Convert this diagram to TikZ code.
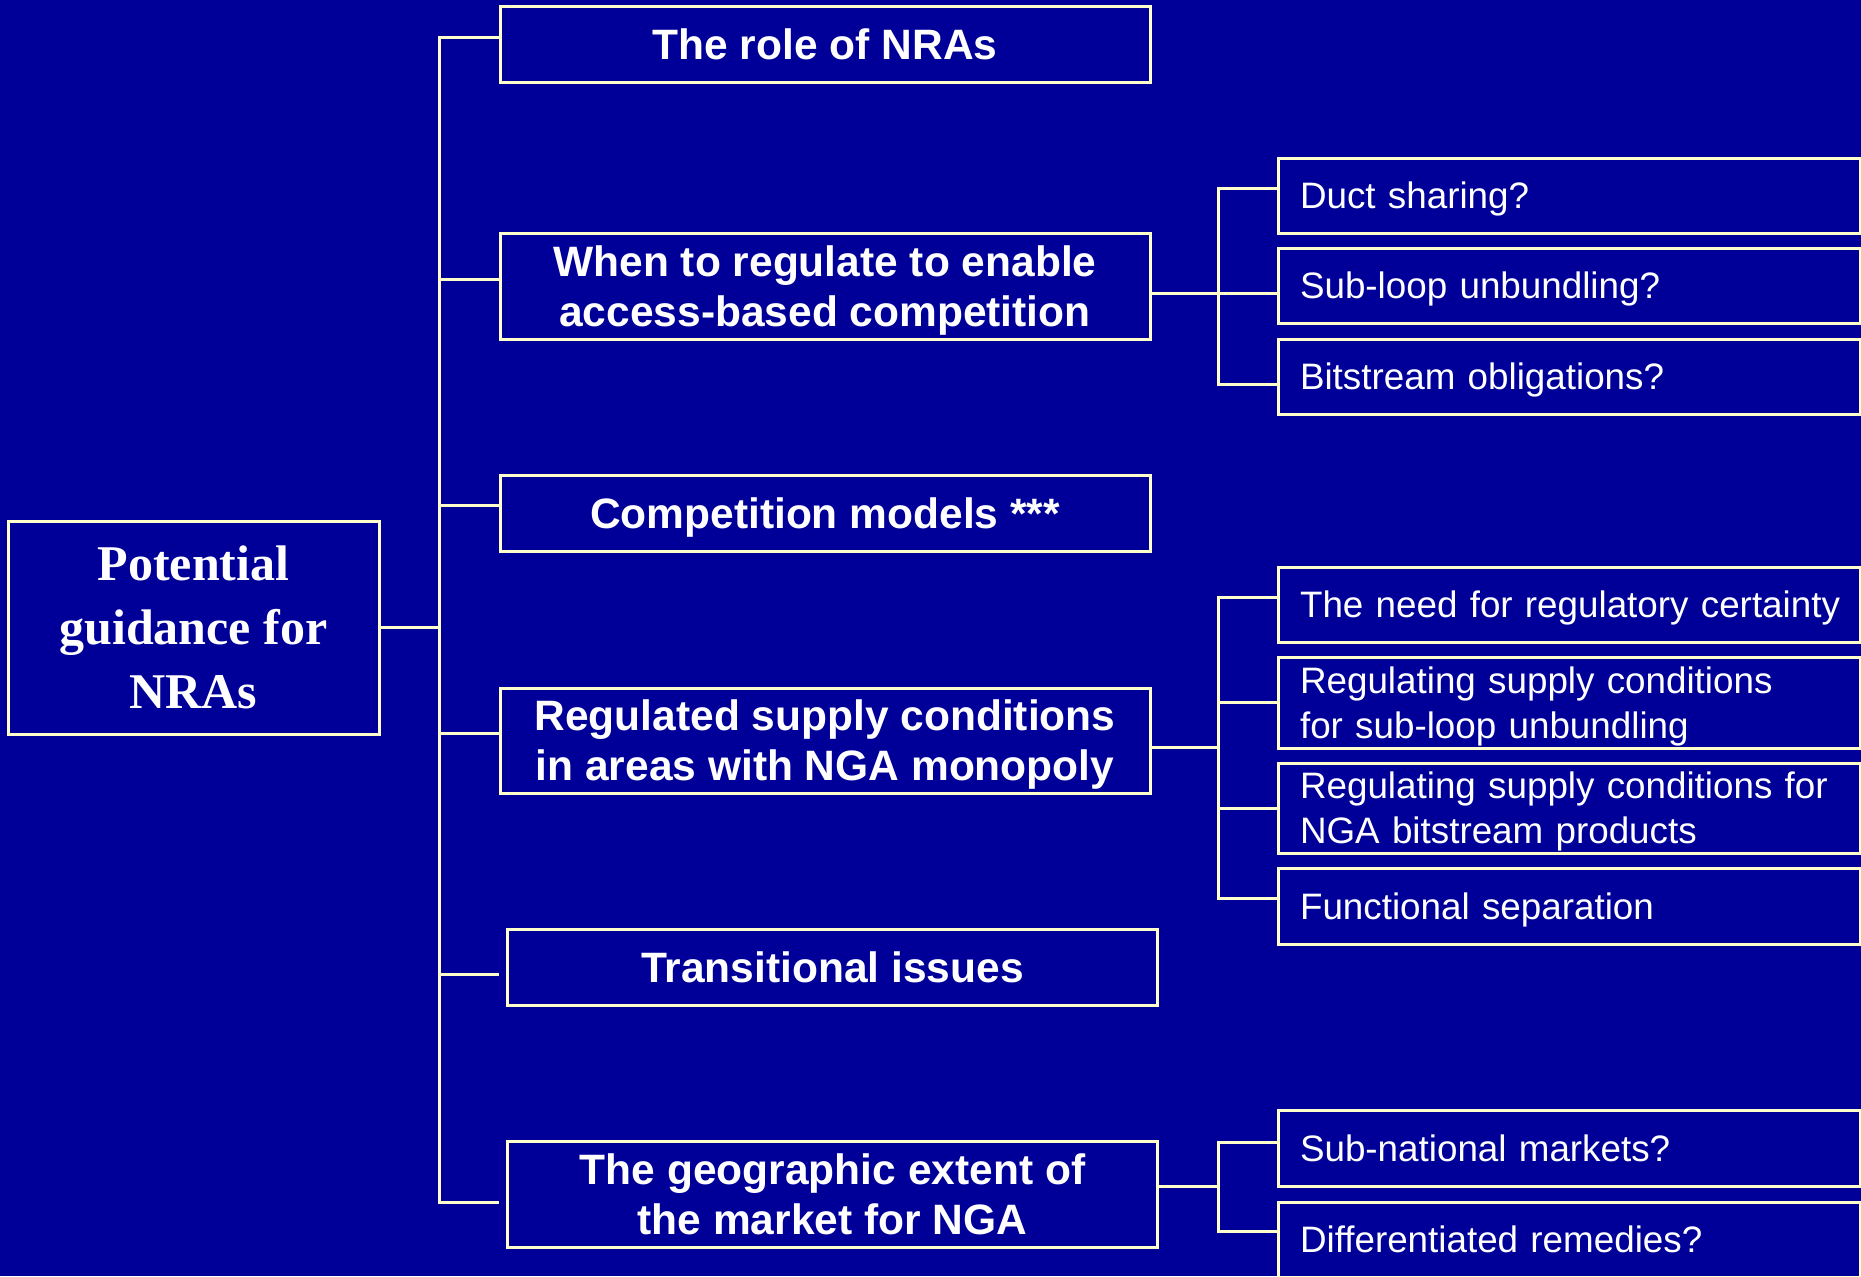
\documentclass[tikz,border=0pt]{standalone}
\usepackage{fontspec}
\setmainfont{Liberation Sans}
\newfontfamily\rootserif{Liberation Serif}
\definecolor{bgc}{RGB}{0,0,153}
\definecolor{linec}{RGB}{255,255,204}
\begin{document}
\begin{tikzpicture}[x=0.5pt,y=-0.5pt,
  box/.style={draw=linec, line width=1.5pt, fill=bgc, text=white, inner sep=0pt},
  rootbox/.style={box, align=center, font=\rootserif\bfseries\fontsize{25}{32}\selectfont},
  midbox/.style={box, minimum width=325pt, align=center, text depth=0pt, font=\bfseries\fontsize{21.25}{25}\selectfont},
  subbox/.style={box, text width=269pt, inner xsep=11pt, align=left, font=\fontsize{18.4}{22.5}\selectfont},
  subone/.style={subbox, text depth=0pt},
  conn/.style={draw=linec, line width=1.5pt}]
\useasboundingbox (0,0) rectangle (1861,1276);
\fill[bgc] (0,0) rectangle (1861,1276);

% root
\node[rootbox, minimum width=185.5pt, minimum height=106.5pt] (root) at (193.5,627.5) {Potential\\guidance for\\NRAs};

% middle column
\node[midbox, minimum height=38pt] (m1) at (825,44) {The role of NRAs};
\node[midbox, minimum height=53pt] (m2) at (825,286) {When to regulate to enable\\access-based competition};
\node[midbox, minimum height=38pt] (m3) at (825,513) {Competition models ***};
\node[midbox, minimum height=52.5pt] (m4) at (825,740.5) {Regulated supply conditions\\in areas with NGA monopoly};
\node[midbox, minimum height=38pt] (m5) at (832.5,967) {Transitional issues};
\node[midbox, minimum height=53pt] (m6) at (832.5,1194) {The geographic extent of\\the market for NGA};

% right column
\node[subone, minimum height=37.5pt] (d1) at (1569,195.5) {Duct sharing?};
\node[subone, minimum height=37.5pt] (d2) at (1569,285.5) {Sub-loop unbundling?};
\node[subone, minimum height=37.5pt] (d3) at (1569,376.5) {Bitstream obligations?};
\node[subone, minimum height=37.5pt] (e1) at (1569,604.5) {\mbox{The need for regulatory certainty}};
\node[subbox, minimum height=45.5pt] (e2) at (1569,702.5) {\rule{0pt}{17.2pt}\mbox{Regulating supply conditions}\\\mbox{for sub-loop unbundling}};
\node[subbox, minimum height=45pt] (e3) at (1569,808) {\rule{0pt}{17.2pt}\mbox{Regulating supply conditions for}\\\mbox{NGA bitstream products}};
\node[subone, minimum height=38pt] (e4) at (1569,906) {Functional separation};
\node[subone, minimum height=38pt] (f1) at (1569,1148) {Sub-national markets?};
\node[subone, minimum height=37.5pt] (f2) at (1569,1239.5) {Differentiated remedies?};

% trunk
\coordinate (b1) at (439,37);
\coordinate (b2) at (439,279);
\coordinate (b3) at (439,505);
\coordinate (b4) at (439,733);
\coordinate (b5) at (439,974);
\coordinate (b6) at (439,1202);
\draw[conn] (b1 -| m1.west) -- (b1) -- (b6) -- (b6 -| m1.west);
\draw[conn] (root.east) -- (root.east -| b1);
\draw[conn] (b2) -- (b2 -| m2.west);
\draw[conn] (b3) -- (b3 -| m3.west);
\draw[conn] (b4) -- (b4 -| m4.west);
\draw[conn] (b5) -- (b5 -| m1.west);

% group 1
\coordinate (g1a) at (1218,188);
\coordinate (g1b) at (1218,293);
\coordinate (g1c) at (1218,384);
\draw[conn] (g1a -| d1.west) -- (g1a) -- (g1c) -- (g1c -| d3.west);
\draw[conn] (m2.east |- g1b) -- (g1b) -- (g1b -| d2.west);

% group 2
\coordinate (g2a) at (1218,597);
\coordinate (g2b) at (1218,702);
\coordinate (g2c) at (1218,808);
\coordinate (g2d) at (1218,898);
\coordinate (g2m) at (1218,747);
\draw[conn] (g2a -| e1.west) -- (g2a) -- (g2d) -- (g2d -| e4.west);
\draw[conn] (g2b) -- (g2b -| e2.west);
\draw[conn] (g2c) -- (g2c -| e3.west);
\draw[conn] (m4.east |- g2m) -- (g2m);

% group 3
\coordinate (g3a) at (1218,1142);
\coordinate (g3b) at (1218,1231);
\coordinate (g3m) at (1218,1186);
\draw[conn] (g3a -| f1.west) -- (g3a) -- (g3b) -- (g3b -| f2.west);
\draw[conn] (m6.east |- g3m) -- (g3m);
\end{tikzpicture}
\end{document}
